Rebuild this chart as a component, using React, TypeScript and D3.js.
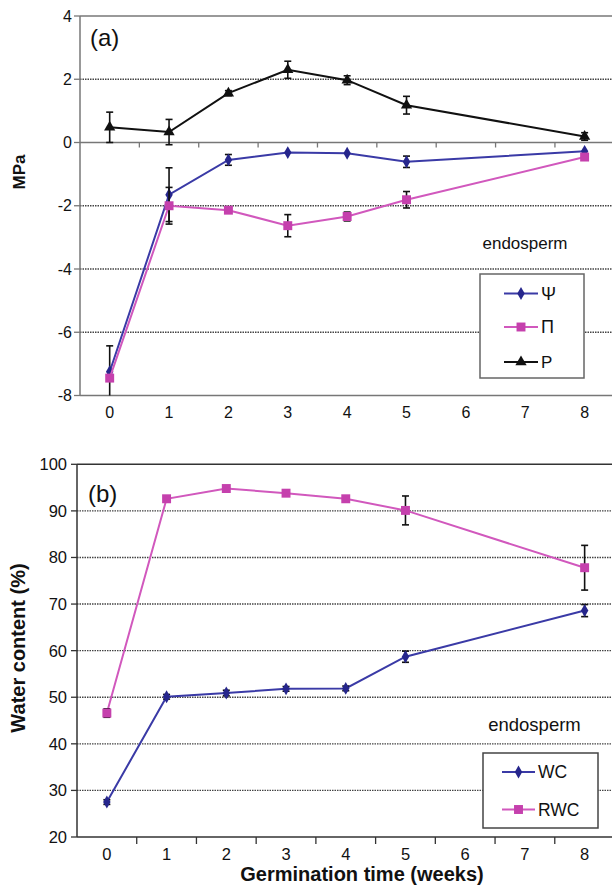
import React from "react";
import * as d3 from "d3";

const categories = ["0", "1", "2", "3", "4", "5", "6", "7", "8"];
const weeks = ["0", "1", "2", "3", "4", "5", "8"];

// Panel (a) – MPa
const psi = [-7.25, -1.65, -0.55, -0.32, -0.34, -0.61, -0.28];
const psiErr = [0.82, 0.85, 0.17, 0.05, 0.05, 0.18, 0.05];
const piVals = [-7.45, -2.0, -2.14, -2.63, -2.34, -1.81, -0.46];
const piErr = [0, 0.58, 0.08, 0.35, 0.14, 0.26, 0.05];
const pVals = [0.48, 0.33, 1.56, 2.3, 1.97, 1.18, 0.19];
const pErr = [0.48, 0.4, 0.08, 0.27, 0.14, 0.28, 0.12];
const yTicksA = [-8, -6, -4, -2, 0, 2, 4];

// Panel (b) – water content
const wc = [27.5, 50.1, 50.9, 51.8, 51.9, 58.7, 68.6];
const wcErr = [0.5, 0.5, 0.6, 0.5, 0.5, 1.2, 1.3];
const rwc = [46.6, 92.6, 94.8, 93.8, 92.6, 90.1, 77.8];
const rwcErr = [0.9, 0.6, 0.5, 0.6, 0.6, 3.1, 4.8];
const yTicksB = [20, 30, 40, 50, 60, 70, 80, 90, 100];

const BLUE = "#3a3aa6";
const BLUE_M = "#26268c";
const PINK = "#d158bd";
const PINK_M = "#c540ad";
const FONT = "'Liberation Sans', Arial, sans-serif";

type Series = {
  vals: number[];
  err: number[];
  color: string;
  mcolor: string;
  symbol: d3.SymbolType;
  size: number;
};

function SeriesMarks({ s, x, y }: { s: Series; x: d3.ScaleBand<string>; y: d3.ScaleLinear<number, number> }) {
  const cx = (c: string) => (x(c) as number) + x.bandwidth() / 2;
  const [dMin, dMax] = y.domain();
  const clampV = (v: number) => Math.max(dMin, Math.min(dMax, v));
  const line = d3
    .line<number>()
    .x((_, i) => cx(weeks[i]))
    .y((v) => y(v));
  const sym = d3.symbol().type(s.symbol).size(s.size)();
  return (
    <g>
      <path d={line(s.vals) || ""} fill="none" stroke={s.color} strokeWidth={2} />
      {s.vals.map((v, i) => {
        if (s.err[i] <= 0.07) return null;
        const hi = v + s.err[i];
        const lo = v - s.err[i];
        const xc = cx(weeks[i]);
        return (
          <g key={"e" + i} stroke="#111" strokeWidth={1.6}>
            <line x1={xc} x2={xc} y1={y(clampV(hi))} y2={y(clampV(lo))} />
            {hi <= dMax ? <line x1={xc - 3.5} x2={xc + 3.5} y1={y(hi)} y2={y(hi)} /> : null}
            {lo >= dMin ? <line x1={xc - 3.5} x2={xc + 3.5} y1={y(lo)} y2={y(lo)} /> : null}
          </g>
        );
      })}
      {s.vals.map((v, i) => (
        <path key={"m" + i} d={sym || ""} transform={`translate(${cx(weeks[i])},${y(v)})`} fill={s.mcolor} />
      ))}
    </g>
  );
}

function LegendItem({ x1, x2, y, s, label, fs }: { x1: number; x2: number; y: number; s: Series; label: string; fs: number }) {
  const sym = d3.symbol().type(s.symbol).size(s.size)();
  return (
    <g>
      <line x1={x1} x2={x2} y1={y} y2={y} stroke={s.color} strokeWidth={2} />
      <path d={sym || ""} transform={`translate(${(x1 + x2) / 2},${y})`} fill={s.mcolor} />
      <text x={x2 + 3} y={y} dominantBaseline="central" fontSize={fs} fontFamily={FONT} fill="#111">
        {label}
      </text>
    </g>
  );
}

export default function App() {
  // Panel (a)
  const xA = d3.scaleBand<string>().domain(categories).range([80, 614.3]);
  const yA = d3.scaleLinear().domain([-8, 4]).range([395.5, 16]);
  // Panel (b)
  const xB = d3.scaleBand<string>().domain(categories).range([77, 614.5]);
  const yB = d3.scaleLinear().domain([20, 100]).range([837, 464.3]);

  const sPsi: Series = { vals: psi, err: psiErr, color: BLUE, mcolor: BLUE_M, symbol: d3.symbolDiamond, size: 48 };
  const sPi: Series = { vals: piVals, err: piErr, color: PINK, mcolor: PINK_M, symbol: d3.symbolSquare, size: 80 };
  const sP: Series = { vals: pVals, err: pErr, color: "#111", mcolor: "#111", symbol: d3.symbolTriangle, size: 55 };
  const sWc: Series = { vals: wc, err: wcErr, color: BLUE, mcolor: BLUE_M, symbol: d3.symbolDiamond, size: 48 };
  const sRwc: Series = { vals: rwc, err: rwcErr, color: PINK, mcolor: PINK_M, symbol: d3.symbolSquare, size: 80 };

  const [a0, a1] = xA.range();
  const [b0, b1] = xB.range();
  const bwA = xA.bandwidth();
  const bwB = xB.bandwidth();

  return (
    <svg
      width={612}
      height={888}
      style={{ position: "absolute", left: 0, top: 0, background: "#fff" }}
      fontFamily={FONT}
    >
      <rect x={0} y={0} width={612} height={888} fill="#fff" />

      {/* ---------------- Panel (a) ---------------- */}
      {yTicksA
        .filter((t) => t !== 0 && t !== 4 && t !== -8)
        .map((t) => (
          <line key={"ga" + t} x1={a0} x2={a1} y1={yA(t)} y2={yA(t)} stroke="#444" strokeWidth={1.4} strokeDasharray="1.5 1" />
        ))}
      {/* plot border */}
      <line x1={a0} x2={a1} y1={yA(4)} y2={yA(4)} stroke="#777" strokeWidth={1.5} />
      <line x1={a0} x2={a1} y1={yA(-8)} y2={yA(-8)} stroke="#777" strokeWidth={1.5} />
      <line x1={a0} x2={a0} y1={yA(4)} y2={yA(-8)} stroke="#777" strokeWidth={1.5} />
      {/* x axis at 0 */}
      <line x1={a0} x2={a1} y1={yA(0)} y2={yA(0)} stroke="#777" strokeWidth={1.5} />
      {categories.slice(1).map((c, i) => (
        <line key={"xta" + c} x1={a0 + (i + 1) * bwA} x2={a0 + (i + 1) * bwA} y1={yA(0)} y2={yA(0) + 5} stroke="#777" strokeWidth={1.3} />
      ))}
      {yTicksA.map((t) => (
        <g key={"yta" + t}>
          <line x1={a0 - 6} x2={a0} y1={yA(t)} y2={yA(t)} stroke="#777" strokeWidth={1.3} />
          <text x={72} y={yA(t)} textAnchor="end" dominantBaseline="central" fontSize={16} fill="#111">
            {t}
          </text>
        </g>
      ))}
      {categories.map((c) => (
        <text key={"xla" + c} x={(xA(c) as number) + bwA / 2} y={412} textAnchor="middle" dominantBaseline="central" fontSize={16} fill="#111">
          {c}
        </text>
      ))}
      <text transform={`translate(19,172) rotate(-90)`} textAnchor="middle" dominantBaseline="central" fontSize={17} fontWeight="bold" fill="#111">
        MPa
      </text>
      <text x={90} y={37} dominantBaseline="central" fontSize={24} fill="#111">
        (a)
      </text>
      <text x={525} y={243} textAnchor="middle" dominantBaseline="central" fontSize={17} fill="#111">
        endosperm
      </text>

      <SeriesMarks s={sP} x={xA} y={yA} />
      <SeriesMarks s={sPsi} x={xA} y={yA} />
      <SeriesMarks s={sPi} x={xA} y={yA} />

      <rect x={480} y={274} width={104} height={104} fill="#fff" stroke="#666" strokeWidth={1.5} />
      <LegendItem x1={504} x2={538} y={293.5} s={sPsi} label="Ψ" fs={18} />
      <LegendItem x1={504} x2={538} y={327} s={sPi} label="Π" fs={18} />
      <LegendItem x1={504} x2={538} y={362} s={sP} label="P" fs={17} />

      {/* ---------------- Panel (b) ---------------- */}
      {yTicksB
        .filter((t) => t !== 20 && t !== 100)
        .map((t) => (
          <line key={"gb" + t} x1={b0} x2={b1} y1={yB(t)} y2={yB(t)} stroke="#444" strokeWidth={1.4} strokeDasharray="1.5 1" />
        ))}
      <line x1={b0} x2={b1} y1={yB(100)} y2={yB(100)} stroke="#333" strokeWidth={1.5} />
      <line x1={b0} x2={b1} y1={yB(20)} y2={yB(20)} stroke="#333" strokeWidth={1.5} />
      <line x1={b0} x2={b0} y1={yB(100)} y2={yB(20)} stroke="#333" strokeWidth={1.5} />
      {categories.slice(1).map((c, i) => (
        <line key={"xtb" + c} x1={b0 + (i + 1) * bwB} x2={b0 + (i + 1) * bwB} y1={yB(20)} y2={yB(20) + 7} stroke="#333" strokeWidth={1.3} />
      ))}
      {yTicksB.map((t) => (
        <g key={"ytb" + t}>
          <line x1={b0 - 6} x2={b0} y1={yB(t)} y2={yB(t)} stroke="#333" strokeWidth={1.3} />
          <text x={67} y={yB(t)} textAnchor="end" dominantBaseline="central" fontSize={16.5} fill="#111">
            {t}
          </text>
        </g>
      ))}
      {categories.map((c) => (
        <text key={"xlb" + c} x={(xB(c) as number) + bwB / 2} y={854} textAnchor="middle" dominantBaseline="central" fontSize={16.5} fill="#111">
          {c}
        </text>
      ))}
      <text transform={`translate(18,648) rotate(-90)`} textAnchor="middle" dominantBaseline="central" fontSize={20} fontWeight="bold" fill="#111">
        Water content (%)
      </text>
      <text x={362} y={874} textAnchor="middle" dominantBaseline="central" fontSize={20} fontWeight="bold" fill="#111">
        Germination time (weeks)
      </text>
      <text x={88} y={493} dominantBaseline="central" fontSize={24} fill="#111">
        (b)
      </text>
      <text x={534.5} y={724} textAnchor="middle" dominantBaseline="central" fontSize={18.5} fill="#111">
        endosperm
      </text>

      <SeriesMarks s={sWc} x={xB} y={yB} />
      <SeriesMarks s={sRwc} x={xB} y={yB} />

      <rect x={483} y={753} width={115} height={75} fill="#fff" stroke="#444" strokeWidth={1.5} />
      <LegendItem x1={502} x2={535} y={772} s={sWc} label="WC" fs={17.5} />
      <LegendItem x1={502} x2={535} y={809.5} s={sRwc} label="RWC" fs={17.5} />
    </svg>
  );
}
